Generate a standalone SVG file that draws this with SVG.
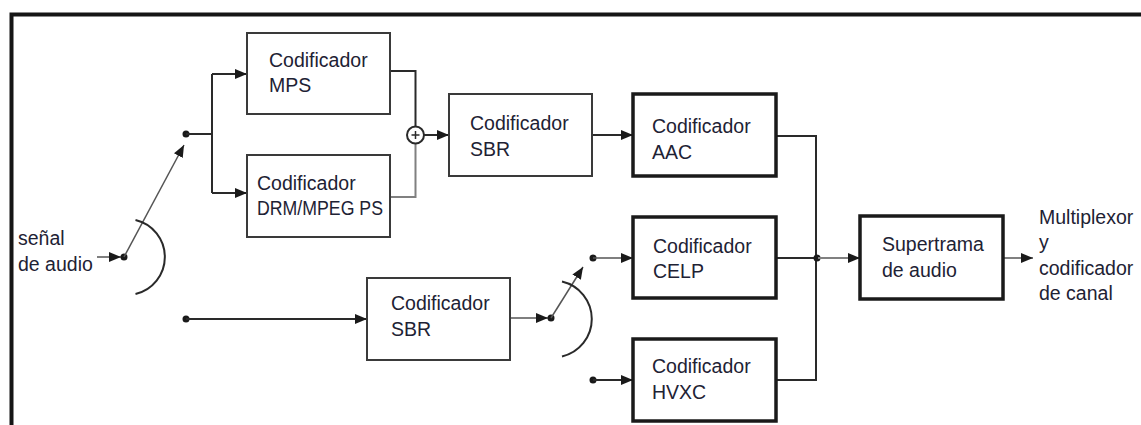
<svg xmlns="http://www.w3.org/2000/svg" width="1141" height="425" viewBox="0 0 1141 425">
  <style>
    .box { fill: #ffffff; stroke: #3a3a3a; stroke-width: 2; }
    .box.heavy { stroke: #1a1a1a; stroke-width: 3.5; }
    .lbl { font-family: "Liberation Sans", Arial, sans-serif; font-size: 19.5px; fill: #1e2234; }
    .wire { fill: none; stroke: #2a2a2a; stroke-width: 2; }
    .wire.thin { stroke: #555555; stroke-width: 1.5; }
    .wire.grey { stroke: #808080; }
    .dot { fill: #1a1a1a; }
  </style>
  <defs>
    <marker id="ah" viewBox="0 0 12 10" refX="12" refY="5" markerWidth="12" markerHeight="10" orient="auto" markerUnits="userSpaceOnUse">
      <path d="M0,0 L12,5 L0,10 z" fill="#1a1a1a"/>
    </marker>
  </defs>

  <rect width="1141" height="425" fill="#ffffff"/>

  <!-- outer frame (top and left edges) -->
  <path d="M11.5,425 V14.5 H1141" fill="none" stroke="#151515" stroke-width="4"/>

  <!-- connectors -->
  <g id="connectors">
    <!-- audio input into switch -->
    <line class="wire thin" x1="97" y1="257" x2="121" y2="257" marker-end="url(#ah)"/>
    <circle class="dot" cx="124" cy="257" r="3.5"/>
    <line class="wire thin" x1="124" y1="257" x2="184" y2="145" marker-end="url(#ah)"/>
    <path class="wire" d="M135.5,220 A38,38 0 0 1 135.5,294"/>

    <!-- upper branch to MPS / DRM -->
    <circle class="dot" cx="186" cy="134" r="3.5"/>
    <path class="wire" d="M186,134 H212 M212,74 V193"/>
    <line class="wire" x1="212" y1="74" x2="247" y2="74" marker-end="url(#ah)"/>
    <line class="wire" x1="212" y1="193" x2="247" y2="193" marker-end="url(#ah)"/>

    <!-- encoders into adder -->
    <path class="wire" d="M390,71 H415.5 V126.5"/>
    <path class="wire grey" d="M390,197 H415.5 V143.5"/>
    <line class="wire" x1="424" y1="135" x2="449" y2="135" marker-end="url(#ah)"/>

    <!-- SBR to AAC -->
    <line class="wire" x1="592" y1="135" x2="633" y2="135" marker-end="url(#ah)"/>

    <!-- AAC / CELP / HVXC outputs merge -->
    <path class="wire" d="M776,136 H816 V380 H776"/>
    <line class="wire" x1="776" y1="258" x2="816" y2="258"/>
    <circle class="dot" cx="817" cy="258" r="3.5"/>
    <line class="wire grey" x1="818" y1="258" x2="860" y2="258" marker-end="url(#ah)"/>

    <!-- Supertrama output -->
    <line class="wire grey" x1="1003" y1="258" x2="1033" y2="258" marker-end="url(#ah)"/>

    <!-- lower path: SBR encoder and speech switch -->
    <circle class="dot" cx="186" cy="319" r="3.5"/>
    <line class="wire" x1="186" y1="319" x2="367" y2="319" marker-end="url(#ah)"/>
    <line class="wire thin" x1="510" y1="318" x2="548" y2="318" marker-end="url(#ah)"/>
    <circle class="dot" cx="551" cy="318" r="3.5"/>
    <line class="wire thin" x1="551" y1="318" x2="583" y2="267" marker-end="url(#ah)"/>
    <path class="wire" d="M562,281.5 A38.5,38.5 0 0 1 562,356.5"/>

    <circle class="dot" cx="593" cy="258" r="3.5"/>
    <line class="wire thin" x1="593" y1="258" x2="633" y2="258" marker-end="url(#ah)"/>
    <circle class="dot" cx="593" cy="380" r="3.5"/>
    <line class="wire" x1="593" y1="380" x2="633" y2="380" marker-end="url(#ah)"/>
  </g>

  <!-- nodes -->
  <g id="in-label">
    <text class="lbl" x="18" y="245">señal</text>
    <text class="lbl" x="18" y="271">de audio</text>
  </g>

  <g id="mps">
    <rect class="box" x="247" y="33" width="143" height="81"/>
    <text class="lbl" x="269" y="67">Codificador</text>
    <text class="lbl" x="269" y="92">MPS</text>
  </g>

  <g id="drm-ps">
    <rect class="box" x="247" y="155" width="143" height="82"/>
    <text class="lbl" x="257" y="190">Codificador</text>
    <text class="lbl" x="257" y="215" textLength="126" lengthAdjust="spacingAndGlyphs">DRM/MPEG PS</text>
  </g>

  <g id="adder">
    <circle cx="415.5" cy="135" r="8.5" fill="#ffffff" stroke="#2a2a2a" stroke-width="2"/>
    <path d="M411.5,135 H419.5 M415.5,131 V139" stroke="#2a2a2a" stroke-width="1.5"/>
  </g>

  <g id="sbr-1">
    <rect class="box" x="449" y="94" width="143" height="82"/>
    <text class="lbl" x="470" y="130">Codificador</text>
    <text class="lbl" x="470" y="156">SBR</text>
  </g>

  <g id="aac">
    <rect class="box heavy" x="633" y="94" width="143" height="82"/>
    <text class="lbl" x="652" y="133">Codificador</text>
    <text class="lbl" x="652" y="159">AAC</text>
  </g>

  <g id="celp">
    <rect class="box heavy" x="633" y="217" width="143" height="81"/>
    <text class="lbl" x="653" y="253">Codificador</text>
    <text class="lbl" x="653" y="278">CELP</text>
  </g>

  <g id="hvxc">
    <rect class="box heavy" x="633" y="339" width="143" height="82"/>
    <text class="lbl" x="652" y="373">Codificador</text>
    <text class="lbl" x="652" y="399">HVXC</text>
  </g>

  <g id="sbr-2">
    <rect class="box" x="367" y="278" width="143" height="82"/>
    <text class="lbl" x="391" y="310">Codificador</text>
    <text class="lbl" x="391" y="336">SBR</text>
  </g>

  <g id="supertrama">
    <rect class="box heavy" x="860" y="216" width="143" height="83"/>
    <text class="lbl" x="882" y="251">Supertrama</text>
    <text class="lbl" x="882" y="277">de audio</text>
  </g>

  <g id="out-label">
    <text class="lbl" x="1039" y="223.5">Multiplexor</text>
    <text class="lbl" x="1039" y="249">y</text>
    <text class="lbl" x="1039" y="274.5">codificador</text>
    <text class="lbl" x="1039" y="300">de canal</text>
  </g>
</svg>
